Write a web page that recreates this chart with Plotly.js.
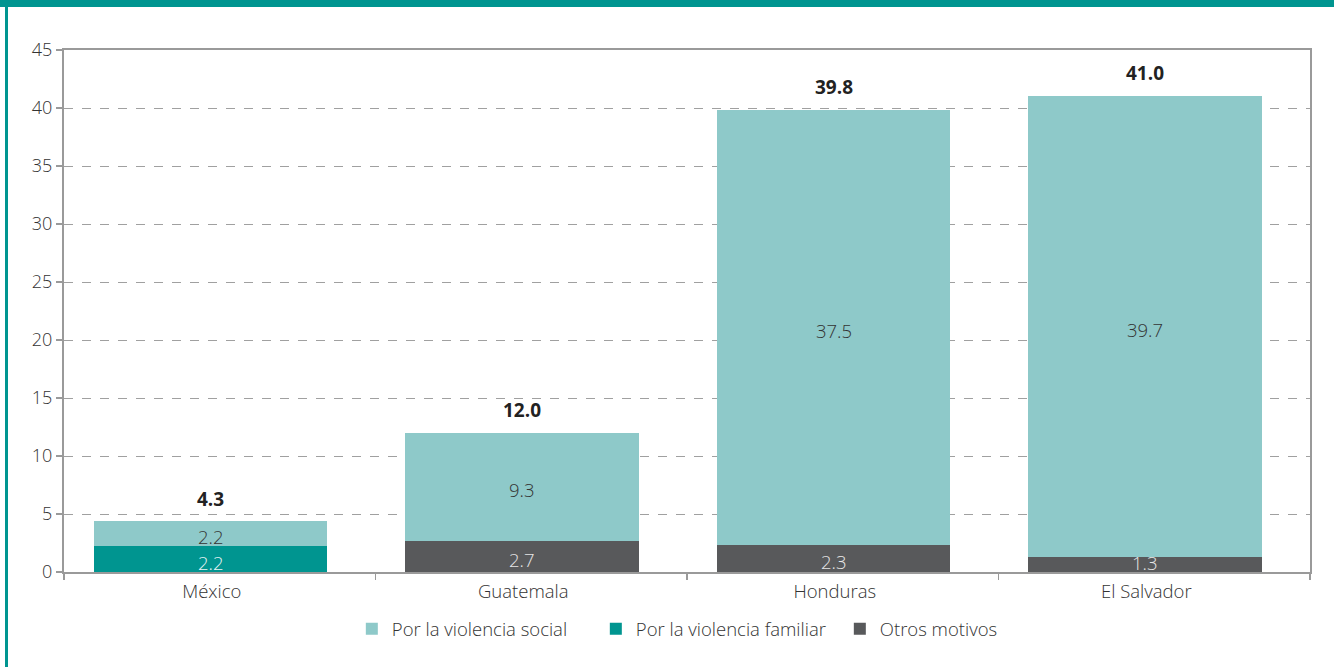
<!DOCTYPE html>
<html><head><meta charset="utf-8">
<script src="https://cdn.plot.ly/plotly-3.0.1.min.js"></script>
<style>
html,body{margin:0;padding:0;background:#fff;}
#wrap{position:relative;width:1334px;height:667px;overflow:hidden;}
#chart{position:absolute;left:0;top:0;width:1334px;height:667px;}
#topbar{position:absolute;left:0;top:0;width:1334px;height:7px;background:#009590;z-index:5;}
#leftbar{position:absolute;left:5px;top:0;width:3px;height:667px;background:#009590;z-index:5;}
</style></head>
<body><div id="wrap"><div id="chart"></div><div id="topbar"></div><div id="leftbar"></div></div>
<script>
const categories = ["México", "Guatemala", "Honduras", "El Salvador"];
const social = [2.2, 9.3, 37.5, 39.7];
const familiar = [2.2, null, null, null];
const otros = [null, 2.7, 2.3, 1.3];
const totals = [4.3, 12.0, 39.8, 41.0];
const seriesNames = ["Por la violencia social", "Por la violencia familiar", "Otros motivos"];

const cSocial = "#8ec9c9", cFamiliar = "#009590", cOtros = "#58595b";
const font = "'Open Sans', Lato, sans-serif";
const BW = 0.75, BOFF = -0.405, SHIFT = -9;

const barStyle = {width:BW, offset:BOFF, hoverinfo:"skip"};
const traces = [
  Object.assign({type:"bar", name:seriesNames[1], x:categories, y:familiar, marker:{color:cFamiliar}, legendrank:2}, barStyle),
  Object.assign({type:"bar", name:seriesNames[2], x:categories, y:otros, marker:{color:cOtros}, legendrank:3}, barStyle),
  Object.assign({type:"bar", name:seriesNames[0], x:categories, y:social, marker:{color:cSocial}, legendrank:1}, barStyle)
];

const annotations = [];
// small segments: label nudged up so it stays inside the bar
const lab = (x, y, v, color) => ({x:x, y:y, text:v.toFixed(1), showarrow:false, xshift:SHIFT, yshift:(v < 1.8 ? 2 : -3), font:{family:font, size:18.5, color:color, weight:300}});
categories.forEach((c, i) => {
  const base = (familiar[i] || 0) + (otros[i] || 0);
  if (familiar[i] != null) annotations.push(lab(c, familiar[i]/2, familiar[i], "#e8f4f4"));
  if (otros[i] != null) annotations.push(lab(c, otros[i]/2, otros[i], "#e6e6e6"));
  annotations.push(lab(c, base + social[i]/2, social[i], "#333333"));
  annotations.push({x:c, y:totals[i], text:"<b>"+totals[i].toFixed(1)+"</b>", showarrow:false, xshift:SHIFT, yanchor:"middle", yshift:23, font:{family:font, size:19, color:"#222222"}});
});

const layout = {
  width:1334, height:667,
  margin:{l:64, r:24, t:50, b:95},
  paper_bgcolor:"#ffffff", plot_bgcolor:"#ffffff",
  barmode:"stack",
  font:{family:font, color:"#333333"},
  showlegend:true,
  legend:{orientation:"h", x:0.231, xanchor:"left", y:-0.073, yanchor:"top", entrywidth:199, font:{family:font, size:18.5, color:"#333", weight:300}, traceorder:"normal", itemwidth:30},
  xaxis:{type:"category", showline:true, linecolor:"#9a9a9a", linewidth:2, mirror:true, ticks:"outside", ticklen:6, tickcolor:"#9a9a9a", tickwidth:1.5, tickson:"boundaries", showgrid:false, ticklabelshift:-8, ticklabelstandoff:2, tickfont:{family:font, size:18.5, color:"#333", weight:300}, fixedrange:true},
  yaxis:{range:[0,45], dtick:5, showline:true, linecolor:"#9a9a9a", linewidth:2, mirror:true, ticks:"outside", ticklen:6, tickcolor:"#9a9a9a", tickwidth:1.5, showgrid:true, gridcolor:"#a0a0a0", griddash:"dash", gridwidth:1, zeroline:false, tickfont:{family:font, size:18, color:"#333", weight:300}, fixedrange:true},
  annotations:annotations
};

Plotly.newPlot("chart", traces, layout, {displayModeBar:false, staticPlot:true});
</script></body></html>
